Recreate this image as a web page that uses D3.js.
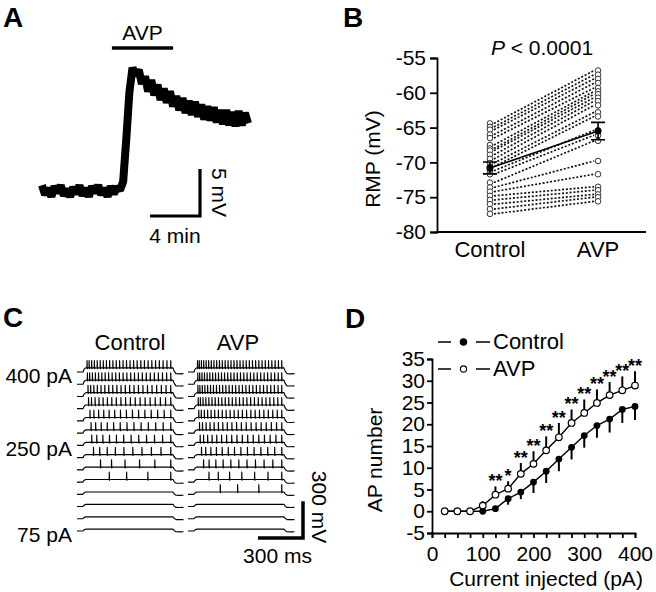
<!DOCTYPE html>
<html><head><meta charset="utf-8">
<script src="https://cdn.jsdelivr.net/npm/d3@7"></script>
<style>
body{margin:0;background:#fff}
svg{display:block}
text{font-family:"Liberation Sans",Arial,Helvetica,sans-serif;fill:#000}
</style>
</head><body>
<script>
// ================= DATA =================
// Panel A: membrane potential trace (mV relative to baseline), sampled every 0.25 min
const traceA_mV = [0.6,-0.4,0.3,-0.6,0.5,-0.2,0.6,-0.5,0.2,-0.6,0.4,-0.3,0.6,-0.5,0.3,-0.6,0.5,-0.2,0.6,-0.4,0.3,-0.6,0.5,-0.3,0.4,0.1,
  1.0,5.5,10.5,13.1,12.3,12.9,11.4,12.2,10.6,11.8,10.2,11.3,9.7,10.9,9.4,10.6,9.0,10.1,8.6,9.9,8.3,9.6,8.1,9.5,7.9,9.2,7.6,9.0,7.5,8.9,7.3,8.6,7.1,8.6,7.0,8.4,6.9,8.5,7.0,8.3,7.2];
const traceA_dtMin = 0.25;
const avpBarA = [5.6, 10.5];          // AVP application window (min)
const scaleA = {mV: 5, min: 4};

// Panel B: resting membrane potential (mV), paired cells
const groupsB = ["Control", "AVP"];
const rmpControl = [-64.4,-64.9,-65.3,-66.0,-66.5,-67.5,-68.0,-68.3,-68.9,-69.5,-70.1,-70.6,-71.2,-71.7,-72.9,-73.6,-74.2,-74.8,-75.4,-76.0,-76.7,-77.4];
const rmpAVP     = [-56.8,-57.4,-58.0,-58.6,-59.3,-59.8,-60.2,-60.7,-61.2,-61.8,-62.8,-63.4,-65.4,-66.1,-66.9,-69.8,-71.7,-73.5,-74.0,-74.6,-75.0,-75.6];
const rmpMean = [-70.8, -65.5];
const rmpSem  = [0.85, 1.25];
const ticksB = [-80,-75,-70,-65,-60,-55];

// Panel C: example traces, current steps and spike counts
const currentsC = [400,375,350,325,300,275,250,225,200,175,150,125,100,75];
const spikesControl = [26,24,21,19,15,13,12,10,6,4,0,0,0,0];
const spikesAVP     = [30,28,27,25,22,19,17,14,11,7,4,0,0,0];
const stepMvC       = [34,33,31,30,28,27,25,24,22,21,19,18,16,15];
const labelRowsC = [400, 250, 75];
const scaleC = {mV: 300, ms: 300};

// Panel D: AP number vs injected current
const currentD = [25,50,75,100,125,150,175,200,225,250,275,300,325,350,375,400];
const apControl    = [0,0,0,0,0.6,2.9,4.4,6.7,9.2,12.0,14.7,17.4,19.7,21.2,23.4,24.1];
const apControlSem = [0,0,0,0,0.5,1.4,1.6,2.5,2.7,2.8,2.8,2.8,2.8,3.1,3.1,3.1];
const apAVP        = [0,0,0,1.3,3.8,5.2,8.6,10.9,14.0,17.0,20.3,22.6,24.9,26.7,27.8,28.9];
const apAVPSem     = [0,0,0,1.0,1.9,1.7,2.5,2.9,3.2,3.3,3.1,3.1,3.1,3.0,3.2,3.3];
const sigD = ["","","","","**","*","**","**","**","**","**","**","**","**","**","**"];
const ticksDy = [-5,0,5,10,15,20,25,30,35];
const ticksDx = [0,100,200,300,400];
const minorDx = [0,25,50,75,100,125,150,175,200,225,250,275,300,325,350,375,400];

// ================= DRAW =================
const FONT = '"Liberation Sans", Arial, Helvetica, sans-serif';
const svg = d3.select("body").append("svg").attr("width",656).attr("height",592);

function label(x, y, s, o = {}) {
  const t = svg.append("text").attr("x",x).attr("y",y).text(s)
    .attr("font-size", o.size || 21)
    .attr("text-anchor", o.anchor || "start")
    .attr("font-weight", o.weight || "normal");
  if (o.style) t.attr("font-style", o.style);
  if (o.rotate != null) t.attr("transform", `rotate(${o.rotate},${x},${y})`);
  return t;
}
function styleAxis(g, size) {
  g.attr("font-family", FONT).attr("font-size", size);
  g.selectAll("path").attr("stroke","#000").attr("stroke-width",1.8);
  g.selectAll("line").attr("stroke","#000").attr("stroke-width",1.8);
  g.selectAll("text").attr("fill","#000");
}

// panel letters
label(3, 27, "A", {size:28, weight:"bold"});
label(343, 27, "B", {size:28, weight:"bold"});
label(3, 327, "C", {size:28, weight:"bold"});
label(345, 328, "D", {size:28, weight:"bold"});

// ---------- Panel A ----------
{
  const tEnd = (traceA_mV.length - 1) * traceA_dtMin;
  const xA = d3.scaleLinear().domain([0, tEnd]).range([42, 248]);
  const yA = d3.scaleLinear().domain([0, 5]).range([191, 144]);
  const line = d3.line().x((d,i) => xA(i*traceA_dtMin)).y(d => yA(d));
  svg.append("path").attr("d", line(traceA_mV)).attr("fill","none")
    .attr("stroke","#000").attr("stroke-width",8).attr("stroke-linejoin","bevel").attr("stroke-linecap","butt");
  // AVP bar
  svg.append("line").attr("x1",xA(avpBarA[0])).attr("x2",xA(avpBarA[1]))
    .attr("y1",48).attr("y2",48).attr("stroke","#000").attr("stroke-width",3.5);
  label((xA(avpBarA[0])+xA(avpBarA[1]))/2, 40, "AVP", {anchor:"middle"});
  // scale bar
  const bx = 200, by = 216;
  const hLen = xA(scaleA.min) - xA(0), vLen = yA(0) - yA(scaleA.mV);
  svg.append("path").attr("d", `M${bx-hLen},${by}H${bx}V${by-vLen}`)
    .attr("fill","none").attr("stroke","#000").attr("stroke-width",3.2);
  label(bx - hLen/2, 243, scaleA.min + " min", {anchor:"middle"});
  label(212, by - vLen/2, scaleA.mV + " mV", {anchor:"middle", rotate:90});
}

// ---------- Panel B ----------
{
  const yB = d3.scaleLinear().domain([-80,-55]).range([232,58]);
  const xB = d3.scalePoint().domain(groupsB).range([437,651]).padding(0.49);
  const gy = svg.append("g").attr("transform","translate(437,0)")
    .call(d3.axisLeft(yB).tickValues(ticksB).tickSize(7).tickPadding(4).tickFormat(d => String(d)));
  styleAxis(gy, 21);
  svg.append("line").attr("x1",436).attr("x2",646).attr("y1",232).attr("y2",232)
    .attr("stroke","#000").attr("stroke-width",1.8);
  groupsB.forEach(g => label(xB(g), 257, g, {anchor:"middle", size:22}));
  label(380, 159, "RMP (mV)", {anchor:"middle", rotate:-90});
  const p = label(542, 55, "", {anchor:"middle"});
  p.append("tspan").attr("font-style","italic").text("P");
  p.append("tspan").text(" < 0.0001");

  const x0 = xB("Control"), x1 = xB("AVP");
  rmpControl.forEach((c, i) => {
    svg.append("line").attr("x1",x0+4).attr("y1",yB(c)).attr("x2",x1-4).attr("y2",yB(rmpAVP[i]))
      .attr("stroke","#111").attr("stroke-width",1.7).attr("stroke-dasharray","2,1.8");
  });
  [[x0, rmpControl],[x1, rmpAVP]].forEach(([x, arr]) => {
    svg.selectAll(null).data(arr).enter().append("circle")
      .attr("cx",x).attr("cy",d => yB(d)).attr("r",2.8)
      .attr("fill","#fff").attr("stroke","#333").attr("stroke-width",1);
  });
  // mean ± SEM
  svg.append("line").attr("x1",x0).attr("y1",yB(rmpMean[0])).attr("x2",x1).attr("y2",yB(rmpMean[1]))
    .attr("stroke","#000").attr("stroke-width",1.6);
  groupsB.forEach((g, i) => {
    const x = xB(g), m = rmpMean[i], s = rmpSem[i];
    svg.append("path").attr("d",
      `M${x},${yB(m-s)}V${yB(m+s)}M${x-7},${yB(m-s)}H${x+7}M${x-7},${yB(m+s)}H${x+7}`)
      .attr("stroke","#000").attr("stroke-width",1.6).attr("fill","none");
    svg.append("circle").attr("cx",x).attr("cy",yB(m)).attr("r",3.5).attr("fill","#000");
  });
}

// ---------- Panel C ----------
{
  const xCtrl = d3.scaleLinear().domain([-40,670]).range([77,183.5]);
  const xAvp  = d3.scaleLinear().domain([-40,670]).range([188,294.5]);
  const yRow = d3.scaleLinear().domain([400,75]).range([372,531]);
  const vC = d3.scaleLinear().domain([0, scaleC.mV]).range([0, -36.7]);

  function tracePts(n, s) {
    const pts = [[-40,0],[0,0],[5,0.5*s],[12,0.85*s],[20,s]];
    if (n > 0) {
      const t0 = Math.min(200, 700/n), t1 = 585;
      for (let k = 0; k < n; k++) {
        const t = n === 1 ? t0 : t0 + (t1 - t0) * Math.pow(k/(n-1), 1.15);
        pts.push([t-0.5,s],[t,s+60],[t+1.5,s-6],[t+5,s]);
      }
    }
    pts.push([600,s],[608,0.2*s],[620,-0.4*s],[645,-0.45*s],[670,-0.4*s]);
    return pts;
  }
  currentsC.forEach((I, r) => {
    [[xCtrl, spikesControl[r]], [xAvp, spikesAVP[r]]].forEach(([xs, n]) => {
      const y0 = yRow(I);
      const line = d3.line().x(d => xs(d[0])).y(d => y0 + vC(d[1]));
      svg.append("path").attr("d", line(tracePts(n, stepMvC[r])))
        .attr("fill","none").attr("stroke","#000").attr("stroke-width",1.15).attr("stroke-linejoin","round");
    });
  });
  label(130, 350, "Control", {anchor:"middle", size:22});
  label(238, 350, "AVP", {anchor:"middle", size:22});
  labelRowsC.forEach(I => label(72, yRow(I) + 11, I + " pA", {anchor:"end"}));
  // scale bar
  const bx = 303, by = 538;
  const hLen = xCtrl(scaleC.ms) - xCtrl(0), vLen = -vC(scaleC.mV);
  svg.append("path").attr("d", `M${bx-hLen},${by}H${bx}V${by-vLen}`)
    .attr("fill","none").attr("stroke","#000").attr("stroke-width",3.5);
  label(bx - hLen/2 - 3, 563, scaleC.ms + " ms", {anchor:"middle"});
  label(312, 507, scaleC.mV + " mV", {anchor:"middle", rotate:90});
}

// ---------- Panel D ----------
{
  const xD = d3.scaleLinear().domain([0,400]).range([432,635]);
  const yD = d3.scaleLinear().domain([-5,35]).range([533,359]);
  const gy = svg.append("g").attr("transform","translate(432,0)")
    .call(d3.axisLeft(yD).tickValues(ticksDy).tickSize(5).tickPadding(2).tickFormat(d => String(d)));
  styleAxis(gy, 21);
  const gx = svg.append("g").attr("transform","translate(0,533)")
    .call(d3.axisBottom(xD).tickValues(minorDx).tickSize(5).tickPadding(8)
      .tickFormat(d => ticksDx.includes(d) ? String(d) : ""));
  styleAxis(gx, 21);
  label(546, 586, "Current injected (pA)", {anchor:"middle"});
  label(382, 460, "AP number", {anchor:"middle", rotate:-90});

  const lineD = d3.line().x((d,i) => xD(currentD[i])).y(d => yD(d));
  svg.append("path").attr("d", lineD(apControl)).attr("fill","none").attr("stroke","#000").attr("stroke-width",1.4);
  svg.append("path").attr("d", lineD(apAVP)).attr("fill","none").attr("stroke","#000").attr("stroke-width",1.4);
  // error bars: control downward, AVP upward
  currentD.forEach((c, i) => {
    if (apControlSem[i] > 0)
      svg.append("line").attr("x1",xD(c)).attr("x2",xD(c)).attr("y1",yD(apControl[i]))
        .attr("y2",yD(apControl[i]-apControlSem[i])).attr("stroke","#000").attr("stroke-width",2);
    if (apAVPSem[i] > 0)
      svg.append("line").attr("x1",xD(c)).attr("x2",xD(c)).attr("y1",yD(apAVP[i]))
        .attr("y2",yD(apAVP[i]+apAVPSem[i])).attr("stroke","#000").attr("stroke-width",2);
  });
  svg.selectAll(null).data(apControl).enter().append("circle")
    .attr("cx",(d,i) => xD(currentD[i])).attr("cy",d => yD(d)).attr("r",3.4).attr("fill","#000");
  svg.selectAll(null).data(apAVP).enter().append("circle")
    .attr("cx",(d,i) => xD(currentD[i])).attr("cy",d => yD(d)).attr("r",3.3)
    .attr("fill","#fff").attr("stroke","#000").attr("stroke-width",1.2);
  sigD.forEach((s, i) => {
    if (s) label(xD(currentD[i]), yD(apAVP[i]+apAVPSem[i]) + 1, s, {anchor:"middle", size:18, weight:"bold"});
  });
  // legend
  const leg = [["Control", 342, true], ["AVP", 369, false]];
  leg.forEach(([name, y, filled]) => {
    svg.append("path").attr("d", `M438,${y}H451M476,${y}H490`).attr("stroke","#000").attr("stroke-width",1.6);
    svg.append("circle").attr("cx",463.5).attr("cy",y).attr("r",filled?3.2:3.1)
      .attr("fill",filled?"#000":"#fff").attr("stroke","#000").attr("stroke-width",1.1);
    label(493, y + 7, name, {size:22});
  });
}
</script>
</body></html>
